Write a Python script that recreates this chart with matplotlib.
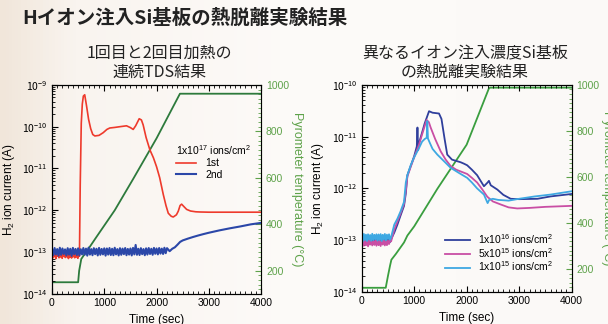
import numpy as np
import matplotlib
matplotlib.use("Agg")
import matplotlib.pyplot as plt
from matplotlib.colors import LinearSegmentedColormap
from matplotlib.ticker import LogLocator, MultipleLocator, NullFormatter

plt.rcParams['font.family'] = ['Noto Sans CJK JP', 'DejaVu Sans']
plt.rcParams['mathtext.fontset'] = 'custom'
plt.rcParams['mathtext.rm'] = 'Liberation Sans'
plt.rcParams['mathtext.it'] = 'Liberation Sans:italic'
plt.rcParams['mathtext.bf'] = 'Liberation Sans:bold'
SANS = ['Liberation Sans', 'DejaVu Sans']

# ---- left panel: 1x10^17 ions/cm^2, 1st and 2nd heating ----
# noisy baseline of the 1st run, 0-525 s every 15 s (units 1e-13 A)
t_1st_base = list(range(0, 526, 15))
i_1st_base = [0.86, 0.72, 0.95, 0.78, 0.9, 0.7, 0.97, 0.8, 0.88, 0.73, 0.94, 0.76,
              0.91, 0.71, 0.96, 0.79, 0.89, 0.74, 0.93, 0.77, 0.9, 0.7, 0.95, 0.75,
              0.92, 0.72, 0.97, 0.78, 0.88, 0.73, 0.94, 0.76, 0.91, 0.71, 0.9, 0.8]
t_1st_peak = [540, 560, 580, 600, 626, 660, 700, 740, 780, 820, 900, 980, 1050, 1105,
              1200, 1300, 1425, 1500, 1553, 1600, 1668, 1710, 1744, 1800, 1872, 1940,
              2000, 2060, 2128, 2180, 2224, 2280, 2319, 2380, 2415, 2450, 2479, 2530,
              2575, 2650, 2750, 2831, 3000, 3500, 4000]
i_1st_peak = [4e-12, 1.2e-10, 3.5e-10, 5.4e-10, 5.8e-10, 3.2e-10, 1.5e-10, 9.0e-11,
              6.5e-11, 6.0e-11, 6.2e-11, 7.2e-11, 8.6e-11, 9.3e-11, 9.6e-11, 1.0e-10,
              1.05e-10, 9.5e-11, 8.6e-11, 1.05e-10, 1.55e-10, 1.45e-10, 1.1e-10, 5.5e-11,
              2.8e-11, 1.8e-11, 1.1e-11, 6e-12, 2.4e-12, 1.3e-12, 8.5e-13, 7.2e-13,
              6.9e-13, 7.8e-13, 9.5e-13, 1.3e-12, 1.4e-12, 1.2e-12, 1.05e-12, 9.6e-13,
              9.2e-13, 9.1e-13, 9.0e-13, 9.0e-13, 9.0e-13]

# noisy baseline of the 2nd run, 0-2200 s every 25 s (units 1e-13 A)
t_2nd_base = list(range(0, 2201, 25))
i_2nd_base = [1.2, 0.84, 1.25, 0.88, 1.18, 0.82, 1.27, 0.86, 1.22, 0.9, 1.16, 0.83,
              1.24, 0.87, 1.2, 0.81, 1.26, 0.89, 1.19, 0.85, 1.23, 0.83, 1.17, 0.88,
              1.25, 0.86, 1.21, 0.82, 1.28, 0.87, 1.18, 0.84, 1.24, 0.89, 1.2, 0.83,
              1.26, 0.86, 1.19, 0.88, 1.23, 0.82, 1.22, 0.87, 1.25, 0.85, 1.2, 0.84,
              1.27, 0.88, 1.18, 0.83, 1.24, 0.86, 1.21, 0.89, 1.25, 0.84, 1.19, 0.87,
              1.22, 0.83, 1.26, 0.88, 1.48, 0.86, 1.2, 0.85, 1.24, 0.89, 1.18, 0.84,
              1.23, 0.87, 1.25, 0.9, 1.2, 0.86, 1.26, 0.91, 1.22, 0.88, 1.25, 0.92,
              1.21, 0.9, 1.27, 0.94, 1.24]
t_2nd_rise = [2250, 2300, 2350, 2400, 2450, 2500, 2600, 2700, 2800, 2900, 3000, 3200,
              3400, 3600, 3800, 4000]
i_2nd_rise = [1.05e-13, 1.2e-13, 1.3e-13, 1.5e-13, 1.75e-13, 1.9e-13, 2.1e-13, 2.3e-13,
              2.5e-13, 2.7e-13, 2.9e-13, 3.3e-13, 3.7e-13, 4.1e-13, 4.6e-13, 5.0e-13]

t_temp_l = [0, 500, 520, 560, 620, 700, 850, 1200, 1553, 2000, 2447, 4000]
temp_l = [150, 150, 200, 250, 270, 295, 345, 460, 595, 770, 962, 962]

# ---- right panel: different implant doses ----
# shared baseline times, 0-560 s every 20 s (units 1e-13 A)
t_base_r = list(range(0, 561, 20))
base_16 = [1.1, 0.84, 1.15, 0.88, 1.12, 0.82, 1.1, 0.9, 1.15, 0.86, 1.1, 0.84, 1.12,
           0.9, 1.08, 0.85, 1.14, 0.83, 1.1, 0.88, 1.13, 0.86, 1.09, 0.84, 1.12, 0.9,
           1.1, 0.92, 1.05]
base_515 = [0.92, 1.04, 0.78, 1.0, 0.8, 1.02, 0.76, 0.98, 0.82, 1.0, 0.79, 0.96, 0.81,
            1.0, 0.78, 1.03, 0.8, 0.97, 0.77, 1.01, 0.82, 0.99, 0.79, 1.02, 0.8, 0.98,
            0.84, 1.0, 0.95]
base_115 = [1.25, 0.95, 1.32, 1.0, 1.28, 0.96, 1.3, 1.02, 1.26, 0.97, 1.33, 1.0, 1.27,
            1.04, 1.3, 0.98, 1.29, 1.01, 1.31, 0.96, 1.27, 1.03, 1.32, 0.99, 1.28, 1.05,
            1.3, 1.02, 1.15]

t_16 = [620, 680, 740, 806, 840, 870, 933, 1000, 1050, 1062, 1075, 1092, 1150, 1200,
        1283, 1350, 1473, 1520, 1580, 1630, 1720, 1800, 1886, 1950, 2010, 2100, 2200,
        2330, 2400, 2425, 2460, 2585, 2700, 2840, 3000, 3350, 3600, 4000]
i_16 = [1.4e-13, 2.0e-13, 3.0e-13, 4.6e-13, 8e-13, 1.8e-12, 2.7e-12, 4.2e-12, 6.5e-12,
        1.5e-11, 5.5e-12, 7.5e-12, 1.2e-11, 1.8e-11, 3.1e-11, 2.9e-11, 2.8e-11, 2.2e-11,
        9e-12, 4.5e-12, 3.6e-12, 3.4e-12, 3.2e-12, 3.0e-12, 2.8e-12, 2.3e-12, 1.8e-12,
        1.1e-12, 1.3e-12, 1.4e-12, 1.15e-12, 9.5e-13, 7.5e-13, 6.3e-13, 6.2e-13, 6.3e-13,
        7.0e-13, 7.8e-13]

t_515 = [620, 680, 740, 806, 840, 870, 933, 1000, 1092, 1150, 1200, 1238, 1280, 1314,
         1400, 1505, 1600, 1695, 1800, 1900, 2010, 2100, 2200, 2300, 2394, 2500, 2648,
         2800, 2965, 3200, 3500, 4000]
i_515 = [1.6e-13, 2.3e-13, 3.3e-13, 5.0e-13, 9e-13, 1.7e-12, 2.6e-12, 4.0e-12, 7e-12,
         1.1e-11, 1.6e-11, 2.1e-11, 1.9e-11, 1.5e-11, 9e-12, 5.2e-12, 3.6e-12, 2.7e-12,
         2.3e-12, 2.1e-12, 1.9e-12, 1.6e-12, 1.3e-12, 9.5e-13, 6.9e-13, 5.6e-13, 4.9e-13,
         4.3e-13, 4.1e-13, 4.2e-13, 4.4e-13, 4.6e-13]

t_115 = [620, 680, 740, 806, 840, 870, 933, 1000, 1092, 1150, 1200, 1238, 1250, 1262,
         1300, 1350, 1441, 1550, 1695, 1850, 2010, 2100, 2200, 2330, 2400, 2430, 2500,
         2600, 2800, 3000, 3300, 3600, 4000]
i_115 = [2.0e-13, 2.6e-13, 3.6e-13, 5.5e-13, 1.3e-12, 1.8e-12, 2.8e-12, 4.0e-12, 6.0e-12,
         8.0e-12, 9.0e-12, 9.5e-12, 2.0e-11, 9.2e-12, 7.5e-12, 5.8e-12, 4.5e-12, 3.5e-12,
         2.5e-12, 2.0e-12, 1.6e-12, 1.3e-12, 1.0e-12, 7.6e-13, 5.2e-13, 6.0e-13, 6.3e-13,
         6.0e-13, 5.8e-13, 6.3e-13, 7.0e-13, 7.6e-13, 8.8e-13]

t_temp_r = [0, 457, 500, 540, 565, 650, 806, 870, 1000, 1441, 2000, 2425, 2450, 4000]
temp_r = [118, 118, 170, 215, 240, 265, 315, 345, 385, 548, 740, 985, 988, 988]

GREEN_L = '#2d7a3c'
GREEN_R = '#3a9e3f'
TICK_GREEN = '#5ea24a'


def style_axes(ax, ax2, ylim):
    ax.set_yscale('log')
    ax.set_xlim(0, 4000)
    ax.set_ylim(*ylim)
    ax.xaxis.set_major_locator(MultipleLocator(1000))
    ax.xaxis.set_minor_locator(MultipleLocator(100))
    ax.yaxis.set_major_locator(LogLocator(base=10, numticks=10))
    ax.yaxis.set_minor_locator(LogLocator(base=10, subs=np.arange(2, 10), numticks=10))
    ax.yaxis.set_minor_formatter(NullFormatter())
    ax.tick_params(which='both', direction='in', top=True, labelsize=7.5, pad=3)
    ax.tick_params(which='major', length=4)
    ax.tick_params(which='minor', length=2)
    ax.set_xlabel('Time (sec)', fontsize=8.5, family=SANS, labelpad=4)
    ax.set_ylabel('H$_2$ ion current (A)', fontsize=8.5, family=SANS, labelpad=4)
    ax2.set_ylim(100, 1000)
    ax2.yaxis.set_major_locator(MultipleLocator(200))
    ax2.yaxis.set_minor_locator(MultipleLocator(20))
    ax2.tick_params(which='both', direction='in', colors=TICK_GREEN, labelsize=7.5)
    ax2.tick_params(which='major', length=4)
    ax2.tick_params(which='minor', length=2)
    ax2.spines['right'].set_color(TICK_GREEN)
    ax2.set_ylabel('Pyrometer temperature (°C)', color=TICK_GREEN, fontsize=9,
                   rotation=270, labelpad=10, family=SANS)
    for lab in ax.get_xticklabels() + ax2.get_yticklabels():
        lab.set_family(SANS)
    ax.set_zorder(ax2.get_zorder() + 1)
    ax.patch.set_visible(False)
    ax2.patch.set_facecolor('white')


fig = plt.figure(figsize=(6.08, 3.24), dpi=100, facecolor='#f8f2ec')

# soft cream-to-white page background
bg = fig.add_axes([0, 0, 1, 1], zorder=-10)
page = LinearSegmentedColormap.from_list(
    'page', [(0.0, '#f1e6da'), (0.12, '#f9f4ef'), (0.5, '#fdfbf9'), (1.0, '#fbf9f7')])
bg.imshow([np.linspace(0, 1, 200)], cmap=page, aspect='auto', extent=(0, 1, 0, 1))
bg.set_xlim(0, 1)
bg.set_ylim(0, 1)
bg.axis('off')

axL = fig.add_axes([0.0855, 0.093, 0.344, 0.645])
axL2 = axL.twinx()
axL2.plot(t_temp_l, temp_l, color=GREEN_L, lw=1.3)
axL.plot(t_1st_base + t_1st_peak, list(np.array(i_1st_base) * 1e-13) + i_1st_peak,
         color='#ee3a2c', lw=1.2, label='1st')
axL.plot(t_2nd_base + t_2nd_rise, list(np.array(i_2nd_base) * 1e-13) + i_2nd_rise,
         color='#2b47a8', lw=1.5, label='2nd')
style_axes(axL, axL2, (1e-14, 1e-9))
leg = axL.legend(loc='upper left', bbox_to_anchor=(0.56, 0.755), frameon=False,
                 title='1x10$^{17}$ ions/cm$^2$', handlelength=1.9, labelspacing=0.12,
                 borderpad=0.2, handletextpad=0.9, prop={'family': SANS, 'size': 7.5})
leg.get_title().set_family(SANS)
leg.get_title().set_fontsize(7.5)
leg._legend_box.align = 'left'

axR = fig.add_axes([0.595, 0.099, 0.345, 0.639])
axR2 = axR.twinx()
axR2.plot(t_temp_r, temp_r, color=GREEN_R, lw=1.3)
axR.plot(t_base_r + t_16, list(np.array(base_16) * 1e-13) + i_16, color='#2f3f9c',
         lw=1.3, label='1x10$^{16}$ ions/cm$^2$')
axR.plot(t_base_r + t_515, list(np.array(base_515) * 1e-13) + i_515, color='#c94ea4',
         lw=1.3, label='5x10$^{15}$ ions/cm$^2$')
axR.plot(t_base_r + t_115, list(np.array(base_115) * 1e-13) + i_115, color='#3ea8e2',
         lw=1.3, label='1x10$^{15}$ ions/cm$^2$')
style_axes(axR, axR2, (1e-14, 1e-10))
axR.legend(loc='upper left', bbox_to_anchor=(0.36, 0.325), frameon=False,
           handlelength=2.4, labelspacing=0.0, borderpad=0.2, handletextpad=0.8,
           prop={'family': SANS, 'size': 7.5})

fig.text(0.036, 0.945, 'Hイオン注入Si基板の熱脱離実験結果', fontsize=14, fontweight='bold',
         va='center', ha='left', color='#222222')
fig.text(0.263, 0.805, '1回目と2回目加熱の\n連続TDS結果', fontsize=11.5, ha='center',
         va='center', linespacing=1.15, color='#222222')
fig.text(0.765, 0.805, '異なるイオン注入濃度Si基板\nの熱脱離実験結果', fontsize=11.5,
         ha='center', va='center', linespacing=1.15, color='#222222')

fig.savefig('out.png', dpi=100, facecolor=fig.get_facecolor())
